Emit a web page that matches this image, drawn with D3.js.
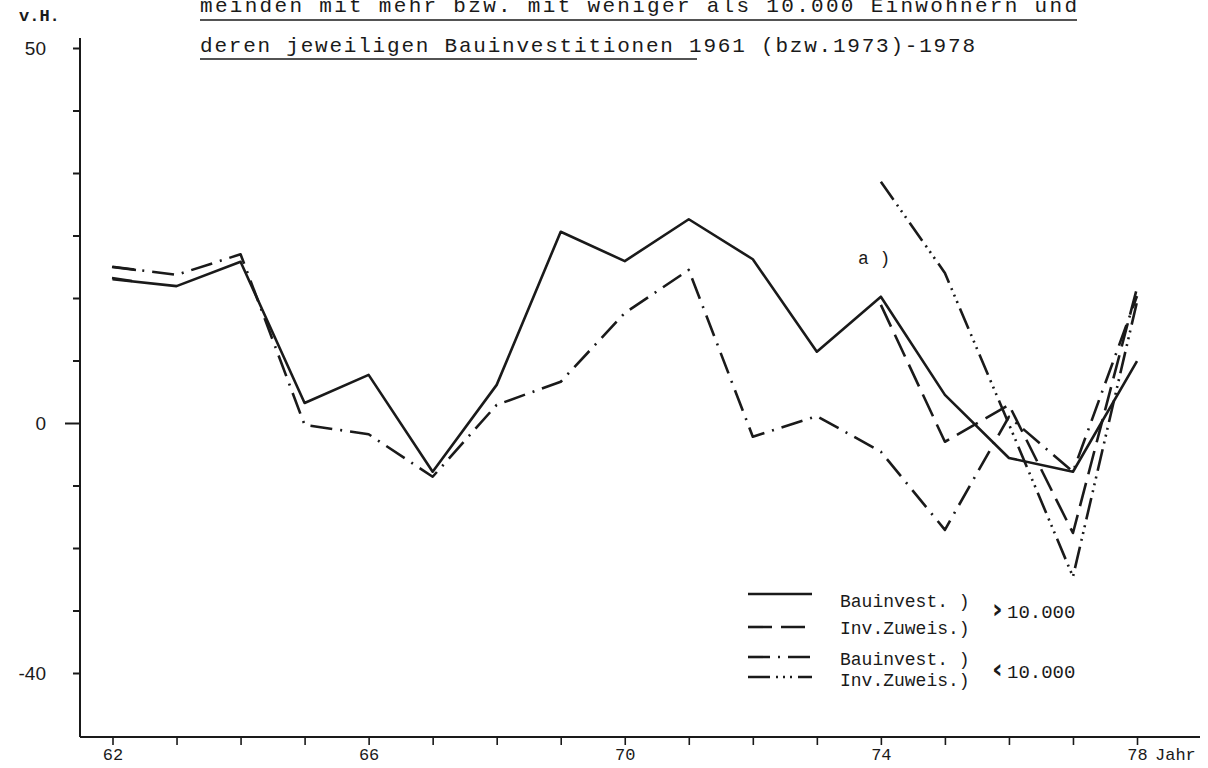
<!DOCTYPE html>
<html>
<head>
<meta charset="utf-8">
<script src="https://cdn.jsdelivr.net/npm/d3@7"></script>
<style>
  body { margin: 0; background: #fff; }
  svg { display: block; }
</style>
</head>
<body>
<svg id="chart" width="1208" height="768"></svg>
<script>
// years on the x axis
var years = d3.range(62, 79);

// Bauinvestitionen, Gemeinden > 10.000 (solid)
var bauGross = [23.0, 21.9, 25.8, 3.2, 7.7, -7.8, 6.1, 30.6, 25.9, 32.6, 26.2, 11.4, 20.2, 4.5, -5.6, -7.8, 9.9];
// Investitionszuweisungen, Gemeinden > 10.000 (dashed), from 1974
var zuwGross = [null, null, null, null, null, null, null, null, null, null, null, null, 18.9, -3.0, 2.9, -17.6, 21.6];
// Bauinvestitionen, Gemeinden < 10.000 (dash-dot)
var bauKlein = [25.0, 23.7, 27.0, -0.3, -1.8, -8.6, 2.9, 6.6, 17.6, 24.5, -2.2, 1.1, -4.6, -17.1, 1.0, -7.8, 20.3];
// Investitionszuweisungen, Gemeinden < 10.000 (dash-dot-dot), from 1974
var zuwKlein = [null, null, null, null, null, null, null, null, null, null, null, null, 38.6, 24.0, -0.2, -24.6, 19.4];

var xTickLabels = [62, 66, 70, 74, 78];
var yTickValues = [-40, -30, -20, -10, 0, 10, 20, 30, 40, 50, 60];
var yTickLabels = ["-40", "", "", "", "0", "", "", "", "", "", "50"];

var titleLines = [
  "meinden mit mehr bzw. mit weniger als 10.000 Einwohnern und",
  "deren jeweiligen Bauinvestitionen 1961 (bzw.1973)-1978"
];

var legendRows = [
  {label: "Bauinvest. )", dash: null},
  {label: "Inv.Zuweis.)", dash: "24,9"},
  {label: "Bauinvest. )", dash: "22,8,2,8"},
  {label: "Inv.Zuweis.)", dash: "22,6,2,5,2,5,2,6"}
];

var series = [
  {values: bauGross, dash: null},
  {values: zuwGross, dash: "24,9"},
  {values: bauKlein, dash: "22,8,2,8"},
  {values: zuwKlein, dash: "22,6,2,5,2,5,2,6"}
];

var ink = "#1a1a1a";
var mono = "'Liberation Mono', monospace";
var svg = d3.select("#chart");

var x = d3.scaleLinear().domain([62, 78]).range([112.5, 1137]);
var y = d3.scaleLinear().domain([-40, 60]).range([673, 48]);

// axes
var axisX = 80, axisY = 737;

svg.append("line")
  .attr("x1", axisX).attr("x2", axisX)
  .attr("y1", 38).attr("y2", axisY)
  .attr("stroke", ink).attr("stroke-width", 2);
svg.append("line")
  .attr("x1", axisX).attr("x2", 1200)
  .attr("y1", axisY).attr("y2", axisY)
  .attr("stroke", ink).attr("stroke-width", 2);

var gy = svg.append("g")
  .attr("transform", "translate(" + axisX + ",0)")
  .call(d3.axisLeft(y)
    .tickValues(yTickValues)
    .tickSize(7)
    .tickPadding(27)
    .tickFormat(function(d, i) { return yTickLabels[i]; }));
gy.select(".domain").remove();
gy.selectAll(".tick line").attr("stroke", ink).attr("stroke-width", 2)
  .attr("x2", function(d) { return d === 0 ? -15 : -7; });
gy.selectAll(".tick text")
  .attr("fill", ink)
  .style("font-family", "'Liberation Sans', sans-serif")
  .style("font-size", "19px");

var gx = svg.append("g")
  .attr("transform", "translate(0," + axisY + ")")
  .call(d3.axisBottom(x)
    .tickValues(years)
    .tickSize(8)
    .tickPadding(3)
    .tickFormat(function(d) { return xTickLabels.indexOf(d) >= 0 ? d : ""; }));
gx.select(".domain").remove();
gx.selectAll(".tick line").attr("stroke", ink).attr("stroke-width", 1.6);
gx.selectAll(".tick text")
  .attr("fill", ink)
  .style("font-family", mono)
  .style("font-size", "17px");

svg.append("text")
  .attr("x", x(78) + 18).attr("y", 760)
  .attr("fill", ink)
  .style("font-family", mono)
  .style("font-size", "17px")
  .text("Jahr");

svg.append("text")
  .attr("x", 19).attr("y", 21)
  .attr("fill", ink)
  .style("font-family", mono)
  .style("font-size", "17px")
  .style("font-weight", "bold")
  .text("v.H.");

// axis break mark
svg.append("path")
  .attr("d", "M112,267 L136,270 M112,278 L132,281")
  .attr("stroke", ink).attr("stroke-width", 2.5).attr("fill", "none");

// data lines
var line = d3.line()
  .defined(function(d) { return d != null; })
  .x(function(d, i) { return x(years[i]); })
  .y(function(d) { return y(d); });

svg.selectAll("path.series")
  .data(series)
  .enter()
  .append("path")
  .attr("class", "series")
  .attr("d", function(s) { return line(s.values); })
  .attr("fill", "none")
  .attr("stroke", ink)
  .attr("stroke-width", 2.6)
  .attr("stroke-linejoin", "round")
  .attr("stroke-dasharray", function(s) { return s.dash; });

svg.append("text")
  .attr("x", 858).attr("y", 264)
  .attr("fill", ink)
  .style("font-family", mono)
  .style("font-size", "18px")
  .text("a )");

// title (cut at the top as in the scan)
var titleY = [12, 52];
var titleEnd = [1077, 975];
svg.selectAll("text.title")
  .data(titleLines)
  .enter()
  .append("text")
  .attr("class", "title")
  .attr("x", 200)
  .attr("y", function(d, i) { return titleY[i]; })
  .attr("textLength", function(d, i) { return titleEnd[i] - 200; })
  .attr("lengthAdjust", "spacing")
  .attr("fill", ink)
  .style("font-family", mono)
  .style("font-size", "21px")
  .text(function(d) { return d; });

var underline = [[200, 1077, 20], [200, 697, 59]];
svg.selectAll("line.ul")
  .data(underline)
  .enter()
  .append("line")
  .attr("x1", function(d) { return d[0]; })
  .attr("x2", function(d) { return d[1]; })
  .attr("y1", function(d) { return d[2]; })
  .attr("y2", function(d) { return d[2]; })
  .attr("stroke", ink).attr("stroke-width", 1.6);

// legend
var legendLineY = [594, 627, 657, 677];
var legendTextY = [607, 634, 665, 686];
var lg = svg.append("g");
lg.selectAll("line")
  .data(legendRows)
  .enter()
  .append("line")
  .attr("x1", 748).attr("x2", 812)
  .attr("y1", function(d, i) { return legendLineY[i]; })
  .attr("y2", function(d, i) { return legendLineY[i]; })
  .attr("stroke", ink).attr("stroke-width", 2.6)
  .attr("stroke-dasharray", function(d) { return d.dash; });
lg.selectAll("text")
  .data(legendRows)
  .enter()
  .append("text")
  .attr("x", 840)
  .attr("y", function(d, i) { return legendTextY[i]; })
  .attr("fill", ink)
  .style("font-family", mono)
  .style("font-size", "18px")
  .text(function(d) { return d.label; });

var groupLabels = [{sym: "\u203A", y: 618}, {sym: "\u2039", y: 678}];
groupLabels.forEach(function(g) {
  svg.append("text")
    .attr("x", 992).attr("y", g.y)
    .attr("fill", ink)
    .style("font-family", "'DejaVu Sans', sans-serif")
    .style("font-size", "26px")
    .style("font-weight", "bold")
    .text(g.sym);
  svg.append("text")
    .attr("x", 1007).attr("y", g.y)
    .attr("fill", ink)
    .style("font-family", mono)
    .style("font-size", "19px")
    .text("10.000");
});
</script>
</body>
</html>
